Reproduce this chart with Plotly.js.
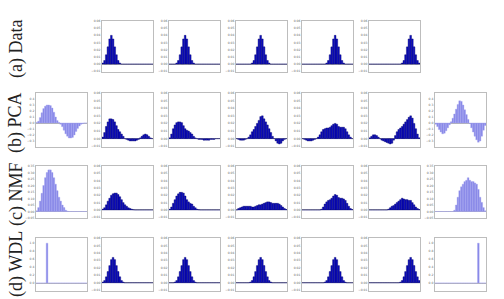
<!DOCTYPE html>
<html><head><meta charset="utf-8">
<script src="https://cdn.plot.ly/plotly-3.0.1.min.js"></script>
<style>html,body{margin:0;padding:0;background:#fff}#chart{width:504px;height:299px}</style>
</head><body><div id="chart"></div>
<script>
const bins = [1,2,3,4,5,6,7,8,9,10,11,12,13,14,15,16,17,18,19,20,21,22,23,24,25,26,27,28,29,30];
const rowLabels = ["(a) Data","(b) PCA","(c) NMF","(d) WDL"];

// (a) Data
const data_c2 = [0.0015,0.005,0.013,0.024,0.035,0.040,0.035,0.024,0.013,0.005,0.0015,0,0,0,0,0,0,0,0,0,0,0,0,0,0,0,0,0,0,0];
const data_c3 = [0,0,0,0,0.0015,0.005,0.013,0.024,0.035,0.040,0.035,0.024,0.013,0.005,0.0015,0,0,0,0,0,0,0,0,0,0,0,0,0,0,0];
const data_c4 = [0,0,0,0,0,0,0,0,0,0.0015,0.005,0.013,0.024,0.035,0.040,0.035,0.024,0.013,0.005,0.0015,0,0,0,0,0,0,0,0,0,0];
const data_c5 = [0,0,0,0,0,0,0,0,0,0,0,0,0,0,0.0015,0.005,0.013,0.024,0.035,0.040,0.035,0.024,0.013,0.005,0.0015,0,0,0,0,0];
const data_c6 = [0,0,0,0,0,0,0,0,0,0,0,0,0,0,0,0,0,0,0,0.0015,0.005,0.013,0.024,0.035,0.040,0.035,0.024,0.013,0.005,0.0015];

// (b) PCA
const pca_c1 = [0.01,0.03,0.09,0.17,0.24,0.28,0.30,0.30,0.29,0.25,0.18,0.10,0.04,0.01,-0.02,-0.06,-0.12,-0.18,-0.22,-0.25,-0.25,-0.24,-0.20,-0.14,-0.09,-0.05,-0.02,-0.01,0,0];
const pca_c2 = [0.002,0.008,0.016,0.022,0.026,0.026,0.025,0.022,0.017,0.012,0.009,0.006,0.003,0,-0.001,-0.002,-0.003,-0.003,-0.003,-0.003,-0.002,-0.001,0.001,0.003,0.005,0.006,0.005,0.003,0.001,0];
const pca_c3 = [0.001,0.006,0.013,0.018,0.021,0.022,0.022,0.021,0.017,0.013,0.011,0.010,0.008,0.006,0.003,0.001,0,-0.001,-0.001,-0.001,-0.002,-0.002,-0.002,-0.002,-0.001,-0.001,-0.001,0,0,0];
const pca_c4 = [0,-0.001,-0.002,-0.002,-0.002,-0.001,0,0.002,0.005,0.009,0.012,0.016,0.020,0.024,0.029,0.030,0.026,0.022,0.018,0.013,0.008,0.003,0,-0.003,-0.006,-0.007,-0.006,-0.003,-0.001,0];
const pca_c5 = [0,-0.001,-0.002,-0.003,-0.003,-0.003,-0.002,-0.001,0,0.002,0.005,0.009,0.012,0.013,0.014,0.014,0.015,0.017,0.019,0.020,0.019,0.016,0.015,0.015,0.015,0.013,0.009,0.005,0.002,0];
const pca_c6 = [0.001,0.003,0.005,0.005,0.004,0.002,0,-0.002,-0.003,-0.004,-0.005,-0.006,-0.007,-0.006,-0.002,0.004,0.009,0.012,0.014,0.016,0.019,0.022,0.025,0.028,0.030,0.027,0.020,0.013,0.006,0.001];
const pca_c7 = [-0.02,-0.06,-0.11,-0.15,-0.18,-0.17,-0.13,-0.08,-0.03,0.02,0.08,0.15,0.23,0.31,0.37,0.36,0.30,0.22,0.14,0.06,-0.01,-0.08,-0.15,-0.22,-0.28,-0.32,-0.30,-0.22,-0.12,-0.04];

// (c) NMF
const nmf_c1 = [0.005,0.03,0.08,0.14,0.20,0.26,0.30,0.32,0.32,0.30,0.26,0.21,0.16,0.11,0.08,0.05,0.03,0.01,0.003,0,0,0,0,0,0,0,0,0,0,0];
const nmf_c2 = [0.001,0.003,0.007,0.012,0.016,0.020,0.022,0.023,0.023,0.021,0.018,0.014,0.010,0.007,0.005,0.003,0.002,0.001,0.0003,0,0,0,0,0,0,0,0,0,0,0];
const nmf_c3 = [0.001,0.004,0.009,0.014,0.019,0.022,0.024,0.024,0.023,0.019,0.014,0.011,0.009,0.008,0.005,0.003,0.001,0.0003,0,0,0,0,0,0,0,0,0,0,0,0];
const nmf_c4 = [0,0.002,0.003,0.004,0.005,0.005,0.005,0.005,0.005,0.004,0.004,0.005,0.006,0.007,0.007,0.008,0.009,0.010,0.011,0.011,0.010,0.009,0.009,0.009,0.009,0.008,0.006,0.004,0.002,0.0005];
const nmf_c5 = [0,0,0,0,0,0,0,0,0,0,0,0.001,0.004,0.008,0.011,0.013,0.014,0.016,0.019,0.021,0.020,0.017,0.016,0.016,0.015,0.013,0.009,0.005,0.002,0.0005];
const nmf_c6 = [0,0,0,0,0,0,0,0,0,0,0,0.001,0.003,0.005,0.006,0.008,0.010,0.012,0.014,0.016,0.015,0.014,0.014,0.013,0.013,0.010,0.007,0.004,0.002,0.0005];
const nmf_c7 = [0,0,0,0,0,0,0,0,0,0,0,0.01,0.05,0.11,0.16,0.19,0.21,0.23,0.24,0.26,0.24,0.23,0.23,0.22,0.21,0.17,0.11,0.07,0.03,0.005];

// (d) WDL
const wdl_c1 = [0,0,0,0,0,0,1.0,0,0,0,0,0,0,0,0,0,0,0,0,0,0,0,0,0,0,0,0,0,0,0];
const wdl_c2 = [0.001,0.003,0.008,0.015,0.023,0.031,0.034,0.031,0.023,0.015,0.008,0.003,0.001,0,0,0,0,0,0,0,0,0,0,0,0,0,0,0,0,0];
const wdl_c3 = [0,0,0,0.001,0.003,0.008,0.015,0.023,0.031,0.034,0.031,0.023,0.015,0.008,0.003,0.001,0,0,0,0,0,0,0,0,0,0,0,0,0,0];
const wdl_c4 = [0,0,0,0,0,0,0,0,0.001,0.003,0.008,0.015,0.023,0.031,0.034,0.031,0.023,0.015,0.008,0.003,0.001,0,0,0,0,0,0,0,0,0];
const wdl_c5 = [0,0,0,0,0,0,0,0,0,0,0,0,0,0.001,0.003,0.008,0.015,0.023,0.031,0.034,0.031,0.023,0.015,0.008,0.003,0.001,0,0,0,0];
const wdl_c6 = [0,0,0,0,0,0,0,0,0,0,0,0,0,0,0,0,0,0,0.001,0.003,0.008,0.015,0.023,0.031,0.034,0.031,0.023,0.015,0.008,0.003];
const wdl_c7 = [0,0,0,0,0,0,0,0,0,0,0,0,0,0,0,0,0,0,0,0,0,0,0,0,0,1.0,0,0,0,0];

const grid = [
  [null, data_c2, data_c3, data_c4, data_c5, data_c6, null],
  [pca_c1, pca_c2, pca_c3, pca_c4, pca_c5, pca_c6, pca_c7],
  [nmf_c1, nmf_c2, nmf_c3, nmf_c4, nmf_c5, nmf_c6, nmf_c7],
  [wdl_c1, wdl_c2, wdl_c3, wdl_c4, wdl_c5, wdl_c6, wdl_c7]
];

// axis settings
const darkRange = [-0.011, 0.06];
const darkTicks = [-0.01,0,0.01,0.02,0.03,0.04,0.05,0.06];
const lightRanges = [null, [-0.4,0.5], [-0.05,0.35], [-0.2,1.13]];
const lightTicks = [null,
  [-0.3,-0.2,-0.1,0,0.1,0.2,0.3,0.4],
  [-0.05,0,0.05,0.10,0.15,0.20,0.25,0.30,0.35],
  [0,0.2,0.4,0.6,0.8,1.0]];
const lightFmt = [null, '.1f', '.2f', '.1f'];

const W = 504, H = 299;
const colLeft = [36, 102, 169, 236, 302, 369, 435];
const colW = 51;
const rowTop = [21, 93, 166, 238];
const rowBot = [72, 147, 218, 291];
const labelCenter = [49, 123, 194, 264];

const traces = [];
const layout = {
  width: W, height: H,
  margin: {l:0, r:0, t:0, b:0},
  paper_bgcolor: '#fff', plot_bgcolor: '#fff',
  showlegend: false, bargap: 0,
  annotations: []
};

let n = 0;
for (let r = 0; r < 4; r++) {
  for (let c = 0; c < 7; c++) {
    const vals = grid[r][c];
    if (!vals) continue;
    n++;
    const light = (c === 0 || c === 6);
    const xa = 'xaxis' + (n === 1 ? '' : n);
    const ya = 'yaxis' + (n === 1 ? '' : n);
    const xr = 'x' + (n === 1 ? '' : n);
    const yr = 'y' + (n === 1 ? '' : n);
    traces.push({
      type: 'bar', x: bins, y: vals, xaxis: xr, yaxis: yr,
      marker: light
        ? {color: '#8686e8', line: {color: '#a6a6f0', width: 0.4}}
        : {color: '#0c0cc4', line: {color: '#000066', width: 0.4}},
      hoverinfo: 'skip'
    });
    layout[xa] = {
      domain: [colLeft[c]/W, (colLeft[c]+colW)/W],
      anchor: yr, range: [0.5, 30.5],
      showticklabels: false, ticks: '', showgrid: false, zeroline: false,
      showline: true, mirror: true, linecolor: '#bdbdbd', linewidth: 1
    };
    layout[ya] = {
      domain: [1 - rowBot[r]/H, 1 - rowTop[r]/H],
      anchor: xr,
      range: light ? lightRanges[r] : darkRange,
      tickmode: 'array',
      tickvals: light ? lightTicks[r] : darkTicks,
      tickformat: light ? lightFmt[r] : '.2f',
      tickfont: {size: 3, color: '#666', family: 'DejaVu Sans'},
      ticks: '', ticklen: 0, showgrid: false,
      zeroline: true, zerolinecolor: '#a0a0a0', zerolinewidth: 0.8,
      showline: true, mirror: true, linecolor: '#bdbdbd', linewidth: 1
    };
  }
  layout.annotations.push({
    xref: 'paper', yref: 'paper',
    x: 16/W, y: 1 - labelCenter[r] / H,
    text: rowLabels[r], showarrow: false, textangle: -90,
    xanchor: 'center', yanchor: 'middle',
    font: {family: 'Liberation Serif, DejaVu Serif, serif', size: 18, color: '#222'}
  });
}

Plotly.newPlot('chart', traces, layout, {staticPlot: true, displayModeBar: false});
</script>
</body></html>
